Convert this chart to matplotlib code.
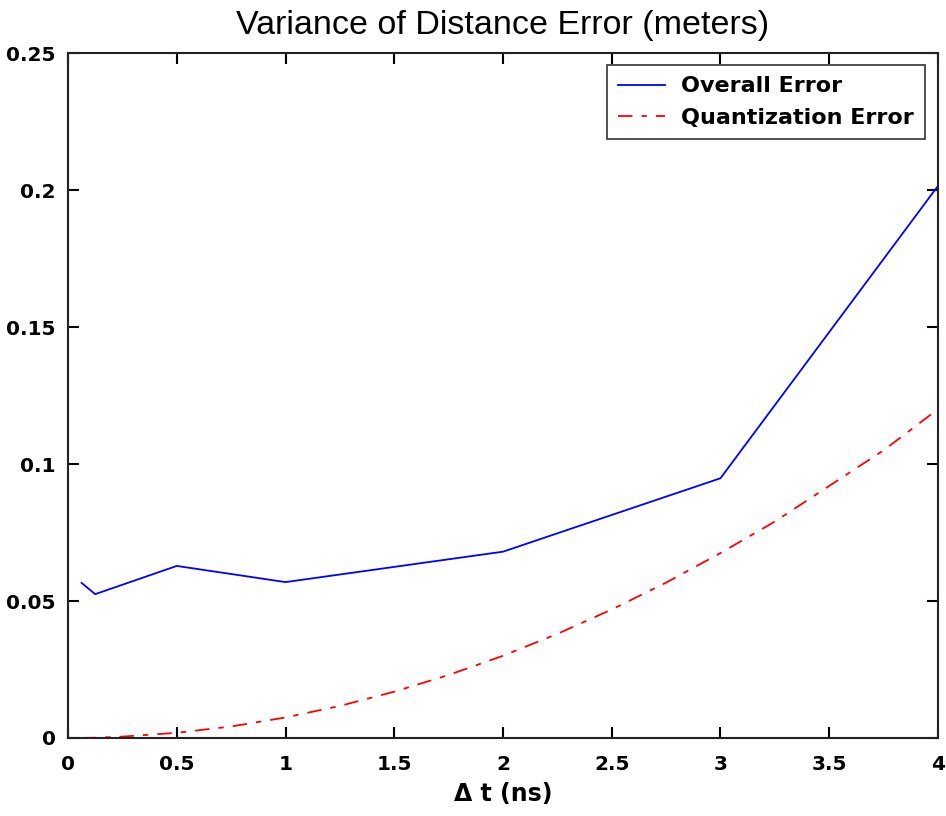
import matplotlib
matplotlib.use('Agg')
import matplotlib.pyplot as plt

# 数据
dt_overall = [0.0625, 0.125, 0.5, 1, 2, 3, 4]
overall_err = [0.0566, 0.0525, 0.0628, 0.0569, 0.0680, 0.0948, 0.2015]

dt_quant = [0.0625, 0.125, 0.25, 0.5, 0.75, 1, 1.25, 1.5, 1.75, 2,
            2.25, 2.5, 2.75, 3, 3.25, 3.5, 3.75, 4]
quant_err = [0.00003, 0.0001, 0.0005, 0.0019, 0.0042, 0.0075, 0.0117, 0.0169,
             0.023, 0.030, 0.038, 0.0469, 0.0567, 0.0675, 0.079, 0.092, 0.105, 0.120]

plt.rcParams['font.family'] = ['DejaVu Sans']

fig = plt.figure(figsize=(9.46, 8.16), dpi=100)
ax = fig.add_axes([0.0719, 0.0956, 0.9196, 0.8394])

ax.plot(dt_overall, overall_err, color='#0000ff', lw=1.3, label='Overall Error')
ax.plot(dt_quant, quant_err, color='#ff0000', lw=1.3, linestyle=(0, (8, 5, 3, 5)),
        label='Quantization Error')

ax.set_xlim(0, 4)
ax.set_ylim(0, 0.25)
ax.set_xticks([0, 0.5, 1, 1.5, 2, 2.5, 3, 3.5, 4])
ax.set_xticklabels(['0', '0.5', '1', '1.5', '2', '2.5', '3', '3.5', '4'])
ax.set_yticks([0, 0.05, 0.1, 0.15, 0.2, 0.25])
ax.set_yticklabels(['0', '0.05', '0.1', '0.15', '0.2', '0.25'])
ax.tick_params(direction='in', length=8, width=1.5, top=True, right=True,
               labelsize=14.5)
ax.tick_params(axis='x', pad=12)
ax.tick_params(axis='y', pad=9)
for lab in ax.get_xticklabels() + ax.get_yticklabels():
    lab.set_fontweight('bold')
for s in ax.spines.values():
    s.set_linewidth(1.5)
    s.set_color('#222222')

ax.set_title('Variance of Distance Error (meters)', fontsize=24.5,
             family=['Liberation Sans'], pad=14)
ax.set_xlabel('Δ t (ns)', fontsize=17, fontweight='bold', labelpad=6)

leg = ax.legend(loc='upper right', fontsize=16, frameon=True, fancybox=False,
                borderpad=0.5, handlelength=2.1, handletextpad=0.75,
                labelspacing=0.5, borderaxespad=0,
                bbox_to_anchor=(0.9855, 0.982))
leg.get_frame().set_edgecolor('black')
leg.get_frame().set_linewidth(1.2)
for t in leg.get_texts():
    t.set_fontweight('bold')

plt.savefig('out.png', dpi=100)
